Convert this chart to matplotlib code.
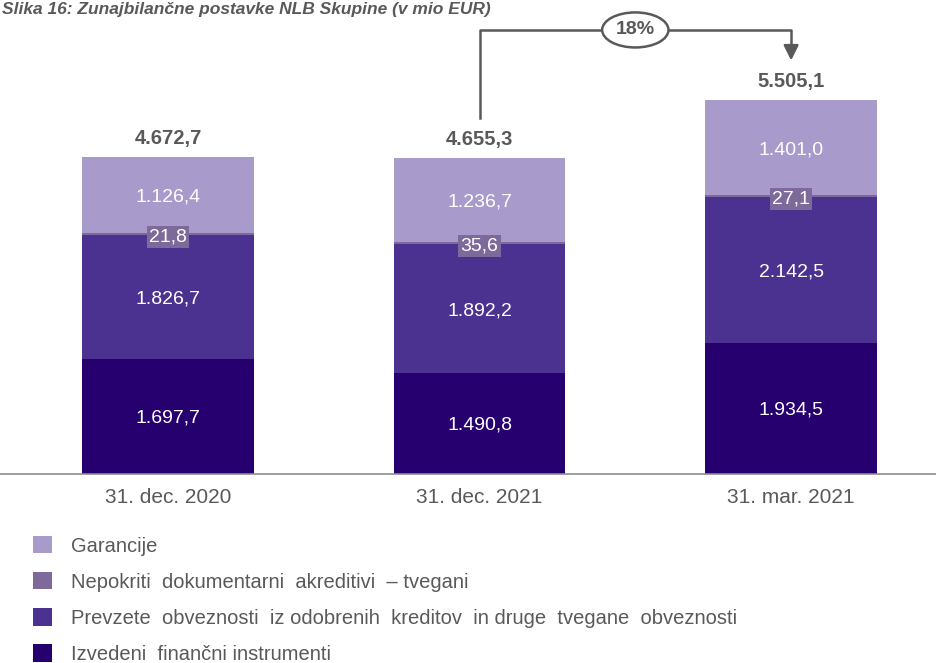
import numpy as np
import matplotlib
matplotlib.use('Agg')
import matplotlib.pyplot as plt

plt.rcParams['font.family'] = ['Liberation Sans', 'DejaVu Sans']

categories = ['31. dec. 2020', '31. dec. 2021', '31. mar. 2021']
izvedeni = [1697.7, 1490.8, 1934.5]
prevzete = [1826.7, 1892.2, 2142.5]
nepokriti = [21.8, 35.6, 27.1]
garancije = [1126.4, 1236.7, 1401.0]
totals = [4672.7, 4655.3, 5505.1]
growth = '18%'

series = [
    ('Izvedeni  finančni instrumenti', izvedeni, '#26006e'),
    ('Prevzete  obveznosti  iz odobrenih  kreditov  in druge  tvegane  obveznosti', prevzete, '#4c3290'),
    ('Nepokriti  dokumentarni  akreditivi  – tvegani', nepokriti, '#7d6a9a'),
    ('Garancije', garancije, '#a89acb'),
]

def fmt(v):
    s = f'{v:,.1f}'
    return s.replace(',', 'X').replace('.', ',').replace('X', '.')

gray = '#595959'

fig = plt.figure(figsize=(9.36, 6.63), dpi=100)
ax = fig.add_axes([0, 189 / 663, 1, 474 / 663])
x = np.arange(len(categories))
bottom = np.zeros(len(categories))
for name, vals, col in series:
    vals = np.array(vals)
    ax.bar(x, vals, 0.55, bottom=bottom, color=col, label=name)
    for xi, b, v in zip(x, bottom, vals):
        if v < 100:
            ax.text(xi, b + v / 2 - 40, fmt(v), ha='center', va='center', color='white',
                    fontsize=14, bbox=dict(boxstyle='square,pad=0.12', fc='#7d6a9a', ec='none'))
        else:
            ax.text(xi, b + v / 2 - 30, fmt(v), ha='center', va='center', color='white', fontsize=14)
    bottom += vals

for xi, t in zip(x, totals):
    ax.text(xi, t + 130, fmt(t), ha='center', va='bottom', color=gray, fontsize=14.5, fontweight='bold')

ax.set_xlim(-0.539, 2.465)
ax.set_ylim(0, 6981)
ax.set_xticks(x)
ax.set_xticklabels(categories, fontsize=15, color=gray)
ax.tick_params(axis='x', length=0, pad=10)
ax.set_yticks([])
for s in ['top', 'left', 'right']:
    ax.spines[s].set_visible(False)
ax.spines['bottom'].set_color('#8c8c8c')
ax.spines['bottom'].set_linewidth(1.2)

# growth bracket
ytop = 6540
ax.plot([1, 1, 2, 2], [totals[1] + 590, ytop, ytop, 6250], color=gray, lw=1.8, clip_on=False)
ax.annotate('', xy=(2, 6050), xytext=(2, 6300),
            arrowprops=dict(arrowstyle='-|>,head_width=0.45,head_length=0.9', color=gray, lw=1.8))
ax.text(1.5, ytop, growth, ha='center', va='center', color=gray, fontsize=14, fontweight='bold',
        bbox=dict(boxstyle='ellipse,pad=0.2', fc='white', ec=gray, lw=1.8))

# title (cut in the source image, kept fully visible here)
fig.text(2 / 936, 1 - 14 / 663, 'Slika 16: Zunajbilančne postavke NLB Skupine (v mio EUR)',
         ha='left', va='baseline', color=gray, fontsize=12.5, fontweight='bold', style='italic')

# legend
handles, labels = ax.get_legend_handles_labels()
fig.legend(handles[::-1], labels[::-1], loc='upper left', bbox_to_anchor=(33 / 936, 1 - 536 / 663),
           frameon=False, fontsize=14.5, labelcolor=gray, handlelength=0.95, handleheight=0.95,
           handletextpad=0.95, labelspacing=0.82, borderaxespad=0, borderpad=0)

fig.savefig('out.png', dpi=100)
